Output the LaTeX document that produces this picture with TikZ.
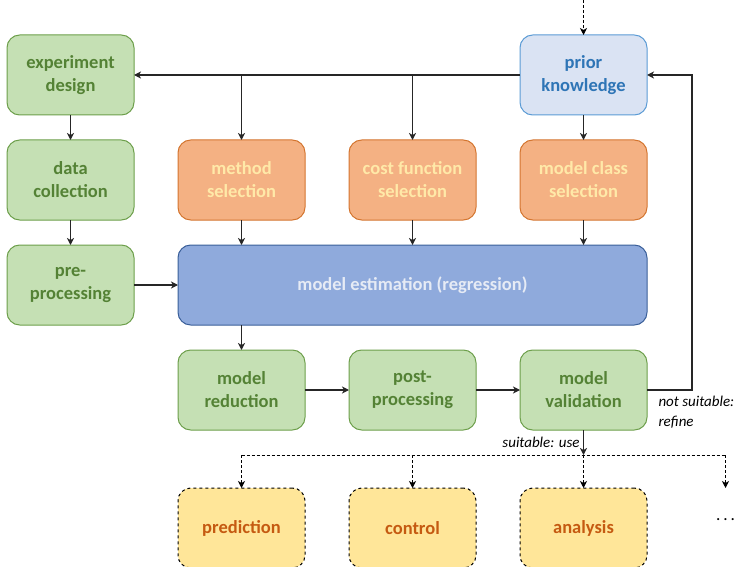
\documentclass[tikz,border=0pt]{standalone}
\usepackage{fontspec}
\setmainfont{Carlito}
\usetikzlibrary{arrows.meta,calc,positioning}
\definecolor{stagefill}{HTML}{C5E0B4}
\definecolor{stagedraw}{HTML}{6D9F4B}
\definecolor{stagetext}{HTML}{548235}
\definecolor{selfill}{HTML}{F4B183}
\definecolor{seldraw}{HTML}{D4752F}
\definecolor{seltext}{HTML}{FFE9A8}
\definecolor{priorfill}{HTML}{DAE3F3}
\definecolor{priordraw}{HTML}{5B9BD5}
\definecolor{priortext}{HTML}{2E75B6}
\definecolor{estfill}{HTML}{8FAADC}
\definecolor{estdraw}{HTML}{3A5F99}
\definecolor{esttext}{HTML}{E6EBF5}
\definecolor{usefill}{HTML}{FFE699}
\definecolor{usetext}{HTML}{C55A11}
\newdimen\hdim
\newdimen\wdim
\newdimen\odim
\newdimen\vdim
\hdim=80pt
\wdim=127pt
\odim=44pt
\vdim=25pt
\tikzstyle{element}=[
  draw,
  font={\fontsize{18.5pt}{23pt}\selectfont\bfseries},
  inner sep=0pt,
  minimum height=\hdim,
  minimum width=\wdim,
  outer sep=0pt,
  rectangle,
  rounded corners=\wdim/10,
  align=center,
  line width=1pt,
]
\tikzstyle{stage}=[element, fill=stagefill, draw=stagedraw, text=stagetext]
\tikzstyle{selection}=[element, fill=selfill, draw=seldraw, text=seltext]
\tikzstyle{knowledge}=[element, fill=priorfill, draw=priordraw, text=priortext]
\tikzstyle{estimation}=[element, fill=estfill, draw=estdraw, text=esttext]
\tikzstyle{usecase}=[element, fill=usefill, draw=black, dashed, text=usetext]
\tikzstyle{arrow}=[
  draw=black!85,
  line width=1.2pt,
  ->,
]
\tikzstyle{dasharrow}=[
  draw=black,
  line width=0.9pt,
  dash pattern=on 3pt off 2pt,
  ->,
]
\tikzstyle{arrowlabel}=[
  color=black,
  font={\fontsize{15pt}{20pt}\selectfont\itshape},
  align=left,
]
\tikzset{
  node distance=\wdim+\odim,
  >={Stealth[length=7pt,width=7pt,inset=2pt]},
}
\begin{document}
\begin{tikzpicture}
      \useasboundingbox (0,0) rectangle (734pt,-567pt);
      \node (expdesign) [stage] at (70.5pt,-75pt) {experiment\\design};
      \node (datacoll) [stage, below=\vdim of expdesign] {data\\collection};
      \node (preproc) [stage, below=\vdim of datacoll] {pre-\\processing};
      %%
      \node (methodsel) [selection, right of=datacoll] {method\\selection};
      \node (costsel) [selection, right of=methodsel] {cost function\\selection};
      \node (classsel) [selection, right of=costsel] {model class\\selection};
      \node (prior) [knowledge, above=\vdim of classsel] {prior\\knowledge};
      \coordinate [above=35pt of prior.north] (input);
      %%
      \node (estim) [estimation, minimum width=3\wdim+2\odim, below=\vdim of costsel]
        {model estimation (regression)};
      \node (reduction) [stage, below=2\vdim+\hdim of methodsel] {model\\reduction};
      \node (postproc) [stage, right of=reduction] {post-\\processing};
      \node (validation) [stage, right of=postproc] {model\\validation};
      %%
      \node (prediction) [usecase, below=58pt of reduction] {prediction};
      \node (control) [usecase, right of=prediction] {control};
      \node (analysis) [usecase, right of=control] {analysis};
      \node (more) [font=\LARGE, inner sep=0pt] at ($(analysis)+(142pt,8pt)$) {.\,.\,.};
      \coordinate (bus) at ($(validation.south)+(0,-25pt)$);
      \coordinate (moreend) at (more|-analysis.north);
      %%
      \draw [dasharrow] (input) -- (prior);
      \draw [arrow] (prior) -- (expdesign);
      \draw [arrow] (methodsel|-prior) -- (methodsel);
      \draw [arrow] (costsel|-prior) -- (costsel);
      \draw [arrow] (prior) -- (classsel);
      \draw [arrow] (expdesign) -- (datacoll);
      \draw [arrow] (datacoll) -- (preproc);
      \draw [arrow] (preproc) -- (estim);
      \draw [arrow] (methodsel) -- (methodsel|-estim.north);
      \draw [arrow] (costsel) -- (estim);
      \draw [arrow] (classsel) -- (classsel|-estim.north);
      \draw [arrow] (reduction|-estim.south) -- (reduction);
      \draw [arrow] (reduction) -- (postproc);
      \draw [arrow] (postproc) -- (validation);
      \draw [arrow] (validation.east) -- ++(45pt,0) |- (prior.east);
      \node [arrowlabel, anchor=north west] at ($(validation.east)+(8pt,-3pt)$)
        {not suitable:\\refine};
      \draw [arrow] (validation) -- node [arrowlabel, left] {suitable: use} (bus);
      %%
      \draw [dasharrow, -] (prediction|-bus) -- (more|-bus);
      \foreach \n in {prediction,control,analysis}
        \draw [dasharrow] (\n|-bus) -- (\n.north);
      \draw [dasharrow] (more|-bus) -- (moreend);
    \end{tikzpicture}
\end{document}
